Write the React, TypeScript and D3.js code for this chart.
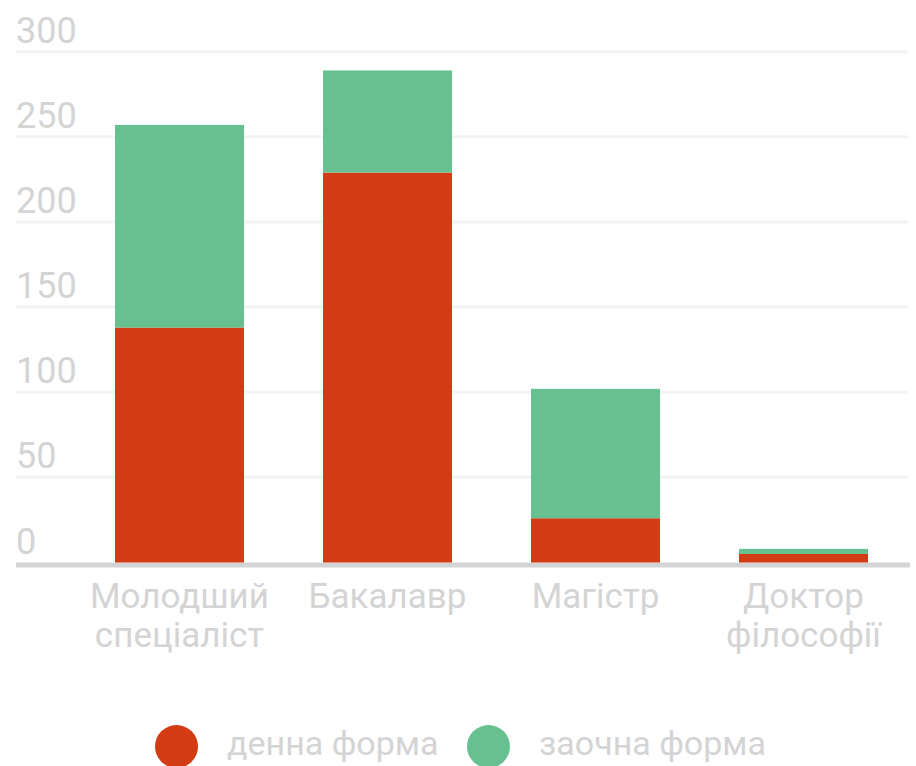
import * as d3 from "d3";

const categories = [["Молодший", "спеціаліст"], ["Бакалавр"], ["Магістр"], ["Доктор", "філософії"]];
const seriesNames = ["денна форма", "заочна форма"];
const dailyValues = [138, 229, 26, 5];
const distanceValues = [119, 60, 76, 3];
const yTicks = [0, 50, 100, 150, 200, 250, 300];
const colors = ["#d33b13", "#67c08f"];

const W = 916;
const H = 766;
const textColor = "#d4d4d4";
const font = "Roboto, sans-serif";

export default function App() {
  const keys = categories.map((c) => c.join(" "));
  const y = d3.scaleLinear().domain([0, 300]).range([562.5, 51.7]);
  const x = d3.scaleBand<string>().domain(keys).range([75.5, 907.5])
    .paddingInner(0.38).paddingOuter(0.19);

  const rows = keys.map((k, i) => ({ key: k, daily: dailyValues[i], distance: distanceValues[i] }));
  const stacked = d3.stack<any>().keys(["daily", "distance"])(rows);

  return (
    <svg width={W} height={H} style={{ position: "absolute", left: 0, top: 0 }} fontFamily={font}>
      {/* grid + tick labels */}
      {yTicks.map((t) => (
        <g key={t}>
          {t > 0 && <line x1={16} x2={908} y1={y(t)} y2={y(t)} stroke="#f3f3f3" strokeWidth={3} />}
          <text x={16} y={y(t) - 9} fontSize={36} fill={textColor}>{t}</text>
        </g>
      ))}
      <line x1={16} x2={910} y1={565} y2={565} stroke="#d4d4d4" strokeWidth={5} />

      {/* bars */}
      {stacked.map((s, si) => (
        <g key={si} fill={colors[si]}>
          {s.map((d, i) => (
            <rect key={i} x={x(keys[i])} width={x.bandwidth()} y={y(d[1])} height={y(d[0]) - y(d[1])} />
          ))}
        </g>
      ))}

      {/* category labels */}
      {categories.map((lines, i) => (
        <text key={i} x={x(keys[i])! + x.bandwidth() / 2} y={608} fontSize={35} fill={textColor} textAnchor="middle">
          {lines.map((l, j) => (
            <tspan key={j} x={x(keys[i])! + x.bandwidth() / 2} dy={j === 0 ? 0 : 39}>{l}</tspan>
          ))}
        </text>
      ))}

      {/* legend */}
      {seriesNames.map((n, i) => {
        const cx = [176.5, 488.5][i];
        return (
          <g key={n}>
            <circle cx={cx} cy={746.5} r={21.5} fill={colors[i]} />
            <text x={cx + 50.5} y={755} fontSize={34} fill={textColor}>{n}</text>
          </g>
        );
      })}
    </svg>
  );
}
